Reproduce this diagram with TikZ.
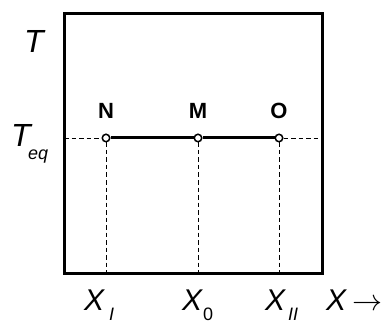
\documentclass[tikz,border=0pt]{standalone}
\usepackage{graphicx}
\usepackage{fontspec}
\setmainfont{Liberation Sans}
\begin{document}
\begin{tikzpicture}[x=1pt,y=-1pt,
  pt/.style={circle,draw,fill=white,line width=1.5pt,inner sep=0pt,minimum size=7.5pt},
  guide/.style={line width=0.7pt,dash pattern=on 4.5pt off 3pt},
  heavy/.style={line width=3pt},
  lbl/.style={font=\fontsize{22}{22}\selectfont\bfseries,inner sep=0pt,anchor=base},
  ax/.style={font=\fontsize{30}{30}\selectfont\itshape,inner sep=0pt,anchor=base west},
  big/.style={font=\fontsize{32}{32}\selectfont\itshape,inner sep=0pt,anchor=base west},
  subs/.style={font=\fontsize{18}{18}\selectfont\itshape,inner sep=0pt,text depth=0pt,anchor=base west}]
\useasboundingbox (0,0) rectangle (385,323);
\draw[heavy] (64,14) rectangle (322,273);
\coordinate (L) at (64,138);
\coordinate (R) at (322,138);
\coordinate (bN) at (106,273);
\coordinate (bM) at (198,273);
\coordinate (bO) at (279,273);
\node[pt] (N) at (106,138) {};
\node[pt] (M) at (198,138) {};
\node[pt] (O) at (279,138) {};
\draw[guide] (L) -- (N);
\draw[guide] (O) -- (R);
\draw[guide] (N) -- (bN);
\draw[guide] (M) -- (bM);
\draw[guide] (O) -- (bO);
\draw[heavy] (N) -- (M);
\draw[heavy] (M) -- (O);
\node[lbl] (lN) at (106,119) {N};
\node[lbl] (lM) at (198,119) {M};
\node[lbl] (lO) at (279,119) {O};
\node[big] (T) at (24,53) {T};
\node[big] (Teq) at (11,147) {T};
\node[subs] (eq) at (28,160) {eq};
\node[ax] (X1) at (84,310) {X};
\node[subs] (s1) at (109,320) {I};
\node[ax] (X0) at (182,310) {X};
\node[subs,font=\fontsize{18}{18}\selectfont] (s0) at (203,320) {0};
\node[ax] (X2) at (265,310) {X};
\node[subs] (s2) at (288,320) {II};
\node[ax] (Xa) at (326,310) {X};
\node[ax,font=\normalsize] (arr) at (352,310) {\scalebox{3}{$\rightarrow$}};
\end{tikzpicture}
\end{document}
